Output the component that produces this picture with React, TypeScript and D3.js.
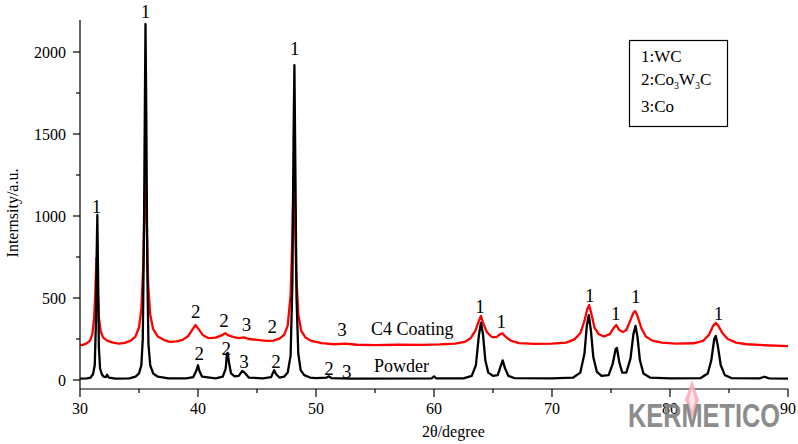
import React, { useEffect, useRef } from "react";
import * as d3 from "d3";

const xTicks = [30, 40, 50, 60, 70, 80, 90];
const xMinor = [35, 45, 55, 65, 75, 85];
const yTicks = [0, 500, 1000, 1500, 2000];
const yMinor = [250, 750, 1250, 1750];

const powder: [number, number][] = [
  [30, 8], [30.6, 10], [30.9, 15], [31.1, 35], [31.25, 90], [31.35, 350], [31.42, 800], [31.47, 1006],
  [31.53, 650], [31.6, 200], [31.7, 70], [31.85, 35], [32.0, 20], [32.2, 18], [32.3, 32], [32.45, 15],
  [33, 8], [34.2, 10], [34.7, 20], [35.0, 40], [35.2, 90], [35.32, 250], [35.42, 900], [35.5, 1700],
  [35.55, 2170], [35.62, 1600], [35.7, 700], [35.8, 220], [35.95, 90], [36.2, 40], [36.6, 20], [37.5, 10],
  [39.0, 10], [39.6, 18], [39.85, 55], [40.0, 90], [40.12, 55], [40.35, 20], [41.5, 10], [42.1, 20],
  [42.35, 70], [42.45, 160], [42.52, 165], [42.62, 110], [42.8, 40], [43.1, 22], [43.45, 25], [43.75, 55],
  [43.95, 45], [44.3, 15], [45.5, 10], [46.2, 18], [46.45, 60], [46.62, 35], [46.9, 15], [47.3, 20],
  [47.6, 45], [47.85, 150], [48.0, 600], [48.1, 1500], [48.17, 1920], [48.25, 1300], [48.35, 500], [48.5, 160],
  [48.7, 60], [49.0, 30], [49.5, 15], [50, 12], [50.9, 15], [51.1, 22], [51.3, 12], [53, 8],
  [59.8, 10], [60, 22], [60.2, 10], [62.5, 10], [63.2, 25], [63.55, 90], [63.8, 270], [63.98, 350],
  [64.15, 280], [64.35, 120], [64.6, 45], [65.0, 25], [65.4, 30], [65.65, 85], [65.82, 120], [66.0, 75],
  [66.3, 25], [66.8, 12], [70, 10], [71.8, 15], [72.4, 45], [72.75, 160], [72.95, 330], [73.12, 396],
  [73.3, 300], [73.5, 140], [73.8, 50], [74.2, 25], [74.8, 30], [75.15, 100], [75.4, 190], [75.5, 195],
  [75.7, 110], [75.95, 45], [76.3, 45], [76.65, 130], [76.9, 280], [77.08, 330], [77.25, 260], [77.45, 120],
  [77.75, 40], [78.3, 15], [80, 10], [82.6, 12], [83.2, 40], [83.5, 120], [83.75, 250], [83.88, 268],
  [84.05, 210], [84.3, 90], [84.65, 30], [85.2, 12], [87.6, 10], [88.0, 20], [88.4, 10], [90, 8],
];

const coating: [number, number][] = [
  [30, 212], [30.3, 215], [30.6, 225], [30.85, 240], [31.05, 280], [31.2, 380], [31.3, 540], [31.4, 744],
  [31.5, 560], [31.6, 380], [31.75, 300], [31.95, 260], [32.3, 240], [32.8, 228], [33.3, 222], [33.8, 226],
  [34.3, 240], [34.7, 265], [35.0, 320], [35.2, 430], [35.35, 680], [35.45, 1000], [35.55, 1250], [35.65, 980],
  [35.78, 580], [35.95, 400], [36.2, 310], [36.6, 265], [37.1, 245], [37.6, 232], [38.2, 235], [38.7, 245],
  [39.2, 270], [39.55, 310], [39.78, 335], [40.05, 310], [40.4, 275], [40.9, 255], [41.5, 258], [42.0, 272],
  [42.3, 285], [42.6, 272], [43.0, 262], [43.5, 255], [43.9, 260], [44.3, 250], [45.0, 245], [45.8, 238],
  [46.4, 240], [46.9, 252], [47.3, 275], [47.6, 330], [47.85, 520], [48.0, 880], [48.1, 1238], [48.2, 1050],
  [48.32, 650], [48.5, 400], [48.75, 300], [49.1, 260], [49.6, 238], [50.5, 225], [51.5, 218], [52.5, 222],
  [53.5, 215], [55, 213], [57, 215], [59, 214], [60.5, 217], [61.8, 222], [62.6, 232], [63.1, 255],
  [63.5, 300], [63.8, 360], [63.98, 390], [64.2, 340], [64.5, 290], [64.9, 262], [65.3, 262], [65.6, 280],
  [65.8, 285], [66.05, 265], [66.5, 240], [67.2, 225], [68.5, 220], [70, 222], [71.2, 228], [71.9, 248],
  [72.4, 285], [72.75, 360], [72.98, 430], [73.15, 457], [73.35, 400], [73.6, 320], [73.95, 280], [74.4, 265],
  [74.9, 280], [75.25, 320], [75.45, 335], [75.7, 305], [76.0, 292], [76.3, 305], [76.65, 365], [76.9, 410],
  [77.05, 420], [77.25, 390], [77.55, 320], [77.95, 265], [78.5, 240], [79.3, 228], [80.5, 222], [82.0, 224],
  [82.8, 238], [83.3, 275], [83.65, 330], [83.88, 348], [84.1, 330], [84.45, 285], [84.9, 250], [85.6, 228],
  [86.5, 218], [88, 212], [90, 207],
];

// peak phase labels: [2θ, intensity at label baseline, label]
const peakLabels: [number, number, string][] = [
  [31.4, 1020, "1"], [35.55, 2210, "1"], [48.2, 1980, "1"],
  [39.8, 380, "2"], [42.2, 325, "2"], [44.1, 300, "3"], [46.3, 285, "2"], [52.2, 270, "3"],
  [63.9, 410, "1"], [65.7, 320, "1"], [73.2, 475, "1"], [75.4, 365, "1"], [77.1, 470, "1"], [84.1, 365, "1"],
  [40.1, 120, "2"], [42.4, 150, "2"], [43.9, 75, "3"], [46.6, 75, "2"], [51.1, 30, "2"], [52.6, 12, "3"],
];

const seriesNames = ["C4 Coating", "Powder"];
const legendLines = ["1:WC", "2:Co3W3C", "3:Co"];

export default function App() {
  const ref = useRef<SVGSVGElement>(null);
  useEffect(() => {
    const svg = d3.select(ref.current);
    svg.selectAll("*").remove();
    const serif = "'Liberation Serif', 'Times New Roman', 'DejaVu Serif', serif";
    const x = d3.scaleLinear().domain([30, 90]).range([80, 788]);
    const y = d3.scaleLinear().domain([0, 2000]).range([380, 52]);
    const axisY = 389;

    svg.append("rect").attr("width", 798).attr("height", 444).attr("fill", "#fff");

    const line = d3.line<[number, number]>().x((d) => x(d[0])).y((d) => y(d[1]));
    svg.append("path").datum(coating).attr("d", line).attr("fill", "none")
      .attr("stroke", "#ff0000").attr("stroke-width", 2.3).attr("stroke-linejoin", "round");
    svg.append("path").datum(powder).attr("d", line).attr("fill", "none")
      .attr("stroke", "#000").attr("stroke-width", 2.3).attr("stroke-linejoin", "round");

    // axes
    const g = svg.append("g").attr("stroke", "#000").attr("stroke-width", 1.2);
    g.append("line").attr("x1", 80).attr("x2", 80).attr("y1", 20).attr("y2", axisY);
    g.append("line").attr("x1", 80).attr("x2", 788).attr("y1", axisY).attr("y2", axisY);
    yTicks.forEach((t) => g.append("line").attr("x1", 73).attr("x2", 80).attr("y1", y(t)).attr("y2", y(t)));
    yMinor.forEach((t) => g.append("line").attr("x1", 76).attr("x2", 80).attr("y1", y(t)).attr("y2", y(t)));
    xTicks.forEach((t) => g.append("line").attr("x1", x(t)).attr("x2", x(t)).attr("y1", axisY).attr("y2", axisY + 8));
    xMinor.forEach((t) => g.append("line").attr("x1", x(t)).attr("x2", x(t)).attr("y1", axisY).attr("y2", axisY + 4));

    const tl = svg.append("g").attr("font-family", serif).attr("font-size", 16).attr("fill", "#000");
    yTicks.forEach((t) => tl.append("text").attr("x", 66).attr("y", y(t) + 5.5).attr("text-anchor", "end").text(String(t)));
    xTicks.forEach((t) => tl.append("text").attr("x", x(t)).attr("y", 414).attr("text-anchor", "middle").text(String(t)));

    svg.append("text").attr("x", 422).attr("y", 437)
      .attr("font-family", serif).attr("font-size", 16).text("2θ/degree");
    svg.append("text").attr("transform", "translate(18,213) rotate(-90)").attr("text-anchor", "middle")
      .attr("font-family", serif).attr("font-size", 16).text("Internsity/a.u.");

    const pl = svg.append("g").attr("font-family", serif).attr("font-size", 19).attr("fill", "#000")
      .attr("text-anchor", "middle");
    peakLabels.forEach(([a, b, s]) => pl.append("text").attr("x", x(a)).attr("y", y(b)).text(s));

    svg.append("text").attr("x", 371).attr("y", 335).attr("font-family", serif).attr("font-size", 18).text(seriesNames[0]);
    svg.append("text").attr("x", 374).attr("y", 372).attr("font-family", serif).attr("font-size", 18).text(seriesNames[1]);

    // legend
    svg.append("rect").attr("x", 629.5).attr("y", 40.5).attr("width", 98).attr("height", 86)
      .attr("fill", "#fff").attr("stroke", "#000").attr("stroke-width", 1.2);
    const lg = svg.append("g").attr("font-family", serif).attr("font-size", 17).attr("fill", "#000");
    lg.append("text").attr("x", 641).attr("y", 62).text(legendLines[0]);
    const t2 = lg.append("text").attr("x", 641).attr("y", 85);
    t2.append("tspan").text("2:Co");
    t2.append("tspan").attr("font-size", 10).attr("dy", 4).text("3");
    t2.append("tspan").attr("dy", -4).text("W");
    t2.append("tspan").attr("font-size", 10).attr("dy", 4).text("3");
    t2.append("tspan").attr("dy", -4).text("C");
    lg.append("text").attr("x", 641).attr("y", 112).text(legendLines[2]);

    // watermark
    const wm = svg.append("g");
    wm.append("path").attr("d", "M692,380 L699,400 L692,419 L685,400 Z").attr("fill", "#f6a8b8").attr("opacity", 0.85);
    wm.append("path").attr("d", "M692,388 L695,400 L692,411 L689,400 Z").attr("fill", "#fde6ea");
    wm.append("text").attr("x", 628).attr("y", 427).attr("font-family", "'Liberation Sans', Arial, sans-serif")
      .attr("font-weight", "bold").attr("font-size", 33).attr("fill", "#808080").attr("opacity", 0.9)
      .attr("textLength", 152).attr("lengthAdjust", "spacingAndGlyphs").text("KERMETICO");
  }, []);
  return (
    <svg ref={ref} width={798} height={444} style={{ position: "absolute", left: 0, top: 0 }} />
  );
}
